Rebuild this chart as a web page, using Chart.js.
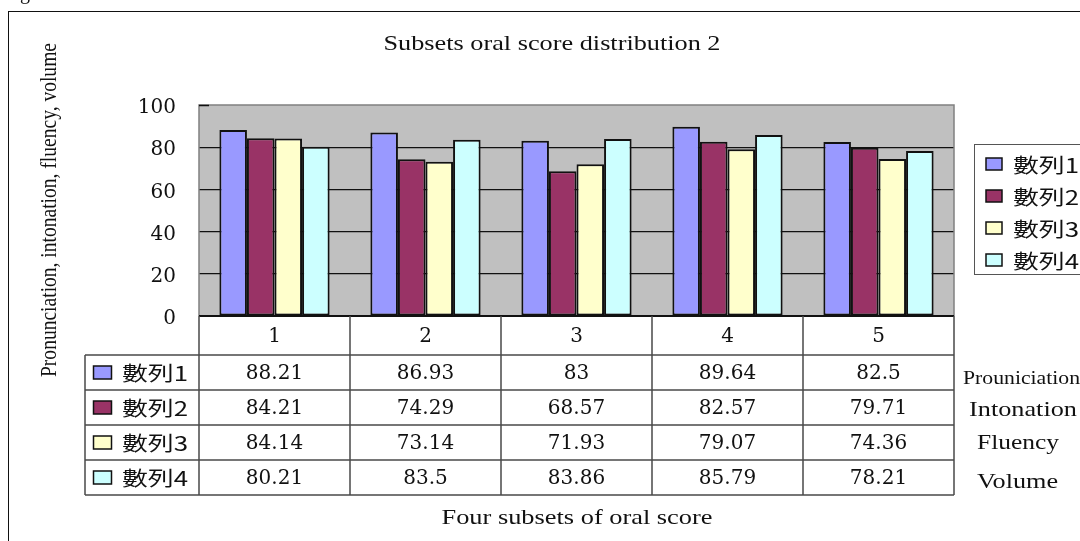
<!DOCTYPE html>
<html>
<head>
<meta charset="utf-8">
<style>
  html, body { margin: 0; padding: 0; background: #fff; }
  #wrap { width: 1080px; height: 541px; }
</style>
<script src="https://cdn.jsdelivr.net/npm/chart.js@4/dist/chart.umd.min.js"></script>
</head>
<body>
<div id="wrap"><canvas id="c" width="1080" height="541"></canvas></div>
<script>
// Oral score subsets: one group per subset, four series each.
const categories = ['1', '2', '3', '4', '5'];
const seriesNames = ['數列1', '數列2', '數列3', '數列4'];
const series1 = [88.21, 86.93, 83, 89.64, 82.5];
const series2 = [84.21, 74.29, 68.57, 82.57, 79.71];
const series3 = [84.14, 73.14, 71.93, 79.07, 74.36];
const series4 = [80.21, 83.5, 83.86, 85.79, 78.21];
const rowNotes = ['Prouniciation', 'Intonation', 'Fluency', 'Volume'];
const yTickValues = [0, 20, 40, 60, 80, 100];

const titleText = 'Subsets oral score distribution 2';
const yTitleText = 'Pronunciation, intonation, fluency, volume';
const xTitleText = 'Four subsets of oral score';

const seriesColors = ['#9999FF', '#993366', '#FFFFCC', '#CCFFFF'];
const allSeries = [series1, series2, series3, series4];

const SERIF = '"Liberation Serif", "DejaVu Serif", serif';
const DIGITS = '"DejaVu Serif", serif';
const CJK = '"Noto Sans CJK TC", "Noto Sans CJK SC", sans-serif';
const INK = '#111';
const LINE = '#4a4a4a';

// Draw text squeezed or stretched horizontally to a given width.
function fitText(ctx, text, x, y, width, font, align) {
  ctx.save();
  ctx.font = font;
  const w = ctx.measureText(text).width;
  ctx.translate(x, y);
  ctx.scale(width / w, 1);
  ctx.textAlign = align || 'center';
  ctx.textBaseline = 'middle';
  ctx.fillStyle = INK;
  ctx.fillText(text, 0, 0);
  ctx.restore();
}

function plainText(ctx, text, x, y, font, align) {
  ctx.save();
  ctx.font = font;
  ctx.textAlign = align || 'center';
  ctx.textBaseline = 'middle';
  ctx.fillStyle = INK;
  ctx.fillText(text, x, y);
  ctx.restore();
}

const ROW_H = 35;
const HEADER_H = 39;

const plotBackground = {
  id: 'plotBackground',
  beforeDraw(chart) {
    const { ctx, chartArea: a } = chart;
    ctx.save();
    ctx.fillStyle = '#ffffff';
    ctx.fillRect(0, 0, chart.width, chart.height);
    ctx.fillStyle = '#C0C0C0';
    ctx.fillRect(a.left, a.top, a.right - a.left, a.bottom - a.top);
    ctx.restore();
  }
};

const decorations = {
  id: 'decorations',
  afterDraw(chart) {
    const { ctx, chartArea: a, scales } = chart;
    const xs = scales.x;
    const catW = (xs.right - xs.left) / categories.length;

    // plot frame: grey top/left/right, dark baseline
    ctx.save();
    ctx.strokeStyle = '#808080';
    ctx.lineWidth = 1.5;
    ctx.beginPath();
    ctx.moveTo(a.left, a.bottom);
    ctx.lineTo(a.left, a.top);
    ctx.lineTo(a.right, a.top);
    ctx.lineTo(a.right, a.bottom);
    ctx.stroke();
    ctx.strokeStyle = '#111';
    ctx.lineWidth = 2;
    ctx.beginPath();
    ctx.moveTo(a.left, a.bottom);
    ctx.lineTo(a.right, a.bottom);
    ctx.stroke();
    // short tick at the top value
    ctx.lineWidth = 1.5;
    ctx.beginPath();
    ctx.moveTo(a.left, a.top + 0.5);
    ctx.lineTo(a.left + 10, a.top + 0.5);
    ctx.stroke();
    ctx.restore();

    // data table
    const tTop = a.bottom + HEADER_H;
    const tBottom = tTop + ROW_H * seriesNames.length;
    const tLeft = 85;
    ctx.save();
    ctx.strokeStyle = LINE;
    ctx.lineWidth = 1.5;
    ctx.beginPath();
    for (let i = 0; i <= categories.length; i++) {
      const bx = xs.left + i * catW;
      ctx.moveTo(bx, a.bottom);
      ctx.lineTo(bx, tBottom);
    }
    ctx.moveTo(tLeft, tTop);
    ctx.lineTo(tLeft, tBottom);
    for (let r = 0; r <= seriesNames.length; r++) {
      const ry = tTop + r * ROW_H;
      ctx.moveTo(tLeft, ry);
      ctx.lineTo(xs.right, ry);
    }
    ctx.stroke();
    ctx.restore();

    for (let r = 0; r < seriesNames.length; r++) {
      const cy = tTop + r * ROW_H + ROW_H / 2;
      // row key swatch
      ctx.save();
      ctx.fillStyle = seriesColors[r];
      ctx.strokeStyle = '#111';
      ctx.lineWidth = 1.5;
      ctx.fillRect(93.5, cy - 6.5, 18, 13);
      ctx.strokeRect(93.5, cy - 6.5, 18, 13);
      ctx.restore();
      fitText(ctx, seriesNames[r], 122, cy + 1, 66, '20px ' + CJK, 'left');
      for (let i = 0; i < categories.length; i++) {
        const cx = xs.getPixelForValue(i);
        plainText(ctx, String(allSeries[r][i]), cx, cy + 1, '20px ' + DIGITS, 'center');
      }
    }

    // notes to the right of the table
    fitText(ctx, rowNotes[0], 963, 379, 117, '19px ' + SERIF, 'left');
    fitText(ctx, rowNotes[1], 969, 410, 108, '22px ' + SERIF, 'left');
    fitText(ctx, rowNotes[2], 977, 443, 82, '22px ' + SERIF, 'left');
    fitText(ctx, rowNotes[3], 977, 482, 81, '22px ' + SERIF, 'left');

    // legend
    ctx.save();
    ctx.strokeStyle = '#555';
    ctx.lineWidth = 1;
    ctx.strokeRect(974.5, 144.5, 140, 130);
    ctx.restore();
    const legendY = [164, 196, 228, 260];
    for (let r = 0; r < seriesNames.length; r++) {
      ctx.save();
      ctx.fillStyle = seriesColors[r];
      ctx.strokeStyle = '#111';
      ctx.lineWidth = 1.5;
      ctx.fillRect(986, legendY[r] - 6, 16, 12);
      ctx.strokeRect(986, legendY[r] - 6, 16, 12);
      ctx.restore();
      fitText(ctx, seriesNames[r], 1013, legendY[r] + 1, 66, '20px ' + CJK, 'left');
    }

    // titles
    fitText(ctx, titleText, 552, 44, 337, '21px ' + SERIF, 'center');
    fitText(ctx, xTitleText, 577, 518, 271, '21px ' + SERIF, 'center');
    ctx.save();
    ctx.translate(50, 210);
    ctx.rotate(-Math.PI / 2);
    fitText(ctx, yTitleText, 0, 0, 334, '23px ' + SERIF, 'center');
    ctx.restore();

    // outer frame and caption edge above it
    ctx.save();
    ctx.strokeStyle = '#111';
    ctx.lineWidth = 1;
    ctx.strokeRect(8.5, 11.5, 1200, 600);
    ctx.font = '20px ' + SERIF;
    ctx.fillStyle = INK;
    ctx.textBaseline = 'alphabetic';
    ctx.textAlign = 'left';
    const lead = ctx.measureText('Fi').width;
    ctx.fillText('Fig', 20 - lead, -1);
    ctx.restore();
  }
};

new Chart(document.getElementById('c'), {
  type: 'bar',
  data: {
    labels: categories,
    datasets: seriesNames.map((name, i) => ({
      label: name,
      data: allSeries[i],
      backgroundColor: seriesColors[i],
      borderColor: '#111',
      borderWidth: 2,
      borderSkipped: false,
      categoryPercentage: 0.73,
      barPercentage: 1.0
    }))
  },
  options: {
    responsive: false,
    devicePixelRatio: 1,
    animation: false,
    layout: { padding: { left: 0, top: 105, right: 126, bottom: 541 - 316 - HEADER_H } },
    plugins: {
      legend: { display: false },
      title: { display: false },
      tooltip: { enabled: false }
    },
    scales: {
      x: {
        offset: true,
        border: { display: false },
        grid: { display: false, drawTicks: false },
        ticks: { color: INK, font: { family: DIGITS, size: 20 }, padding: 9 },
        afterFit(scale) { scale.height = HEADER_H; }
      },
      y: {
        min: 0,
        max: 100,
        border: { display: false },
        afterBuildTicks(scale) { scale.ticks = yTickValues.map(v => ({ value: v })); },
        grid: {
          drawTicks: false,
          color: ctx => (ctx.tick && (ctx.tick.value === 0 || ctx.tick.value === 100)) ? 'rgba(0,0,0,0)' : '#111',
          lineWidth: 1.2
        },
        ticks: { color: INK, font: { family: DIGITS, size: 20 }, padding: 23, labelOffset: 3 },
        afterFit(scale) { scale.width = 199; }
      }
    }
  },
  plugins: [plotBackground, decorations]
});
</script>
</body>
</html>
